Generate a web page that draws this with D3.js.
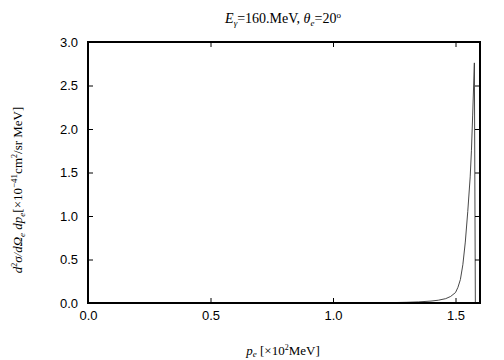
<!DOCTYPE html>
<html><head><meta charset="utf-8">
<script src="https://cdn.jsdelivr.net/npm/d3@7"></script>
<style>body{margin:0;background:#fff}</style>
</head><body>
<svg id="c" width="504" height="360"></svg>
<script>
const xTicks = [0, 0.5, 1.0, 1.5];
const yTicks = [0, 0.5, 1.0, 1.5, 2.0, 2.5, 3.0];
const pe = [0, 0.5, 1.0, 1.20, 1.25, 1.30, 1.35, 1.40, 1.43, 1.46, 1.48, 1.50, 1.51, 1.52, 1.53, 1.54, 1.55, 1.56, 1.565, 1.57, 1.577, 1.581];
const xs = [0, 0, 0, 0.003, 0.005, 0.008, 0.013, 0.022, 0.032, 0.05, 0.075, 0.12, 0.18, 0.27, 0.44, 0.70, 1.05, 1.45, 1.75, 2.15, 2.76, 0];

const svg = d3.select("#c");
const L = 88, R = 480, T = 42, B = 303;
const x = d3.scaleLinear().domain([0, 1.6]).range([L, R]);
const y = d3.scaleLinear().domain([0, 3.0]).range([B, T]);
const tickFont = "Liberation Sans, Arial, sans-serif";
const serif = "Liberation Serif, Times New Roman, serif";

// curve
svg.append("path")
  .datum(pe.map((p, i) => [p, xs[i]]))
  .attr("fill", "none").attr("stroke", "#333").attr("stroke-width", 0.9)
  .attr("d", d3.line().x(d => x(d[0])).y(d => y(d[1])));

// axes
const ax = svg.append("g").attr("transform", `translate(0,${B})`)
  .call(d3.axisBottom(x).tickValues(xTicks).tickFormat(d3.format(".1f")).tickSizeInner(-5).tickSizeOuter(0).tickPadding(8));
const axTop = svg.append("g").attr("transform", `translate(0,${T})`)
  .call(d3.axisTop(x).tickValues(xTicks).tickFormat("").tickSizeInner(-5).tickSizeOuter(0));
const ay = svg.append("g").attr("transform", `translate(${L},0)`)
  .call(d3.axisLeft(y).tickValues(yTicks).tickFormat(d3.format(".1f")).tickSizeInner(-5).tickSizeOuter(0).tickPadding(10));
const ayR = svg.append("g").attr("transform", `translate(${R},0)`)
  .call(d3.axisRight(y).tickValues(yTicks).tickFormat("").tickSizeInner(-5).tickSizeOuter(0));
[ax, axTop, ay, ayR].forEach(g => {
  g.select(".domain").remove();
  g.selectAll("line").attr("stroke", "#000");
  g.selectAll("text").attr("font-family", tickFont).attr("font-size", 13).attr("fill", "#000");
});
svg.append("rect").attr("x", L).attr("y", T).attr("width", R - L).attr("height", B - T)
  .attr("fill", "none").attr("stroke", "#000").attr("stroke-width", 2);

// title
const t = svg.append("text").attr("x", 283).attr("y", 23).attr("text-anchor", "middle")
  .attr("font-family", serif).attr("font-size", 14);
t.append("tspan").attr("font-style", "italic").text("E");
t.append("tspan").attr("font-style", "italic").attr("font-size", 9).attr("dy", 3).text("γ");
t.append("tspan").attr("dy", -3).text("=160.MeV,  ");
t.append("tspan").attr("font-style", "italic").text("θ");
t.append("tspan").attr("font-style", "italic").attr("font-size", 9).attr("dy", 3).text("e");
t.append("tspan").attr("dy", -3).text("=20");
t.append("tspan").attr("font-size", 9).attr("dy", -5).text("o");

// x label
const xl = svg.append("text").attr("x", 283).attr("y", 355).attr("text-anchor", "middle")
  .attr("font-family", serif).attr("font-size", 13);
xl.append("tspan").attr("font-style", "italic").text("p");
xl.append("tspan").attr("font-style", "italic").attr("font-size", 9).attr("dy", 2).text("e");
xl.append("tspan").attr("dy", -2).text(" [×10");
xl.append("tspan").attr("font-size", 8).attr("dy", -5).text("2");
xl.append("tspan").attr("dy", 5).text("MeV]");

// y label
const yl = svg.append("text").attr("transform", "translate(22,190) rotate(-90)").attr("text-anchor", "middle")
  .attr("font-family", serif).attr("font-size", 13);
yl.append("tspan").attr("font-style", "italic").text("d");
yl.append("tspan").attr("font-size", 8).attr("dy", -5).text("2");
yl.append("tspan").attr("font-style", "italic").attr("dy", 5).text("σ/dΩ");
yl.append("tspan").attr("font-style", "italic").attr("font-size", 9).attr("dy", 3).text("e");
yl.append("tspan").attr("font-style", "italic").attr("dy", -3).text(" dp");
yl.append("tspan").attr("font-style", "italic").attr("font-size", 9).attr("dy", 3).text("e");
yl.append("tspan").attr("dy", -3).text("[×10");
yl.append("tspan").attr("font-size", 9).attr("dy", -5).text("−41");
yl.append("tspan").attr("dy", 5).text("cm");
yl.append("tspan").attr("font-size", 8).attr("dy", -5).text("2");
yl.append("tspan").attr("dy", 5).text("/sr MeV]");
</script>
</body></html>
